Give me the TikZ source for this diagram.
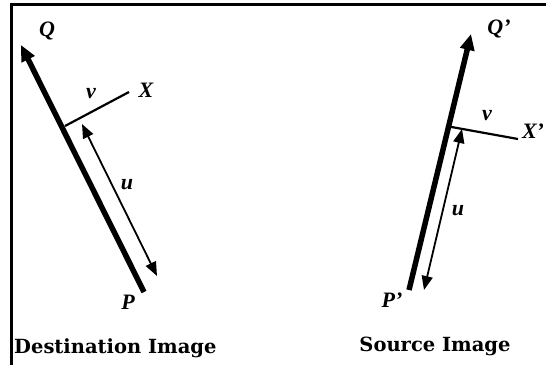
\documentclass[tikz,border=0pt]{standalone}
\usepackage{fontspec}
\setmainfont{Liberation Serif}
\newfontfamily\capfont{DejaVu Serif}
\usetikzlibrary{arrows.meta}

\tikzset{
  axis/.style={line width=5.5pt,-{Triangle[length=16pt,width=14pt]}},
  perp/.style={line width=2.2pt},
  span/.style={line width=1.8pt,{Triangle[length=14pt,width=11pt]}-{Triangle[length=14pt,width=11pt]}},
  lbl/.style={inner sep=0pt,font=\fontsize{22}{22}\selectfont\bfseries\itshape},
  caption/.style={inner sep=0pt,font=\capfont\fontsize{19.5}{19.5}\selectfont\bfseries}
}

\begin{document}
\begin{tikzpicture}[x=1pt,y=-1pt]
    \useasboundingbox (0,0) rectangle (546,365);
    % Frame
    \draw[line width=3pt] (11.5,365) -- (11.5,4.5) -- (546,4.5);
    % Destination image
    \coordinate (p) at (144,292);
    \coordinate (q) at (21,45);
    \coordinate (f) at (65,126);
    \coordinate (x) at (129,92);
    \coordinate (ua) at (82,124);
    \coordinate (ub) at (157,276);
    \draw[axis] (p) -- (q);
    \draw[perp] (f) -- (x);
    \draw[span] (ua) -- (ub);
    \node[lbl] (lq) at (47,31) {Q};
    \node[lbl] (lp) at (128,302) {P};
    \node[lbl] (lx) at (146,90) {X};
    \node[lbl] (lv) at (91,94) {v};
    \node[lbl] (lu) at (127,185) {u};
    % Source image
    \coordinate (p2) at (409,290);
    \coordinate (q2) at (471,34);
    \coordinate (f2) at (446,126);
    \coordinate (x2) at (518,139);
    \coordinate (ua2) at (462,129);
    \coordinate (ub2) at (424,290);
    \draw[axis] (p2) -- (q2);
    \draw[perp] (f2) -- (x2);
    \draw[span] (ua2) -- (ub2);
    \node[lbl] (lq2) at (499,29) {Q'};
    \node[lbl] (lp2) at (392,300) {P'};
    \node[lbl] (lx2) at (533,131) {X'};
    \node[lbl] (lv2) at (487,116) {v};
    \node[lbl] (lu2) at (458,211) {u};
    % Captions
    \node[caption,anchor=west] (dest) at (14,348) {Destination Image};
    \node[caption] (src) at (435,346) {Source Image};
\end{tikzpicture}
\end{document}
